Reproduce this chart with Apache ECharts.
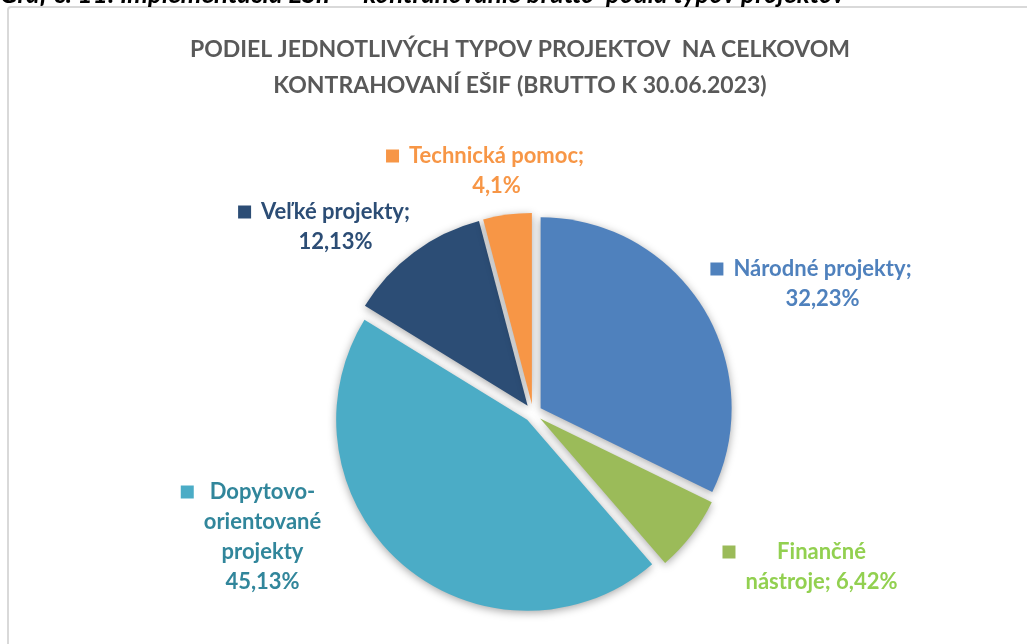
<!DOCTYPE html>
<html>
<head>
<meta charset="utf-8">
<script src="https://cdn.jsdelivr.net/npm/echarts@6/dist/echarts.min.js"></script>
<style>
html, body { margin: 0; padding: 0; background: #fff; }
#chart { width: 1027px; height: 644px; }
</style>
</head>
<body>
<div id="chart"></div>
<script>
// data
const categories = ['Národné projekty', 'Finančné nástroje', 'Dopytovo-orientované projekty', 'Veľké projekty', 'Technická pomoc'];
const shares = [32.23, 6.42, 45.13, 12.13, 4.1];
// how each label is broken into lines (%v = value)
const labelLines = [
    ['Národné projekty;', '%v'],
    ['Finančné', 'nástroje; %v'],
    ['Dopytovo-', 'orientované', 'projekty', '%v'],
    ['Veľké projekty;', '%v'],
    ['Technická pomoc;', '%v']
];
const sliceColors = ['#4F81BD', '#9BBB59', '#4BACC6', '#2C4D75', '#F79646'];
const labelColors = ['#4F81BD', '#92D050', '#31869B', '#2C4D75', '#F79646'];

// centre of each label block, as Excel placed them
const labelAnchors = [[811, 284], [810, 567], [251, 537], [324, 227], [485, 171]];

const labelFont = 'Lato, "Open Sans", sans-serif';

let chart = echarts.init(document.getElementById('chart'));

function labelText(i) {
    let v = String(shares[i]).replace('.', ',') + '%';
    return labelLines[i].map(function (ln, k) {
        return (k === 0 ? '{m|}{g|}' : '{s|}') + '{t|' + ln.replace('%v', v) + '}';
    }).join('\n');
}

// data labels (Excel style: square key + text, free placed)
let labels = categories.map(function (name, i) {
    return {
        type: 'text',
        x: labelAnchors[i][0],
        y: labelAnchors[i][1],
        silent: true,
        z: 10,
        style: {
            text: labelText(i),
            align: 'center',
            verticalAlign: 'middle',
            rich: {
                m: { width: 13, height: 13, backgroundColor: sliceColors[i], align: 'left' },
                g: { width: 10, align: 'left' },
                s: { width: 23, align: 'left' },
                t: {
                    fill: labelColors[i],
                    fontFamily: labelFont,
                    fontWeight: 'bold',
                    fontSize: 22,
                    lineHeight: 30,
                    align: 'center'
                }
            }
        }
    };
});

let pieData = categories.map(function (name, i) {
    return {
        name: name,
        value: shares[i],
        selected: true,
        itemStyle: { color: sliceColors[i] }
    };
});

let option = {
    backgroundColor: '#ffffff',
    animation: false,
    title: {
        text: 'PODIEL JEDNOTLIVÝCH TYPOV PROJEKTOV  NA CELKOVOM\nKONTRAHOVANÍ EŠIF (BRUTTO K 30.06.2023)',
        left: 520,
        top: 32,
        textAlign: 'center',
        padding: 0,
        textStyle: {
            color: '#595959',
            fontFamily: labelFont,
            fontWeight: 'bold',
            fontSize: 23,
            lineHeight: 36
        }
    },
    graphic: [
        {
            type: 'rect',
            shape: { x: 8, y: 7, width: 1100, height: 700, r: 3 },
            style: { fill: 'none', stroke: '#D9D9D9', lineWidth: 2 },
            silent: true
        },
        {
            type: 'text',
            x: 0,
            y: -5,
            style: {
                text: 'Graf č. 11: Implementácia EŠIF – kontrahovanie brutto  podľa typov projektov',
                font: 'italic bold 26px Lato, sans-serif',
                fill: '#000',
                verticalAlign: 'middle'
            },
            silent: true
        }
    ].concat(labels),
    series: [
        {
            type: 'pie',
            center: [533, 413],
            radius: 191,
            startAngle: 90,
            clockwise: true,
            selectedMode: 'multiple',
            selectedOffset: 9,
            itemStyle: {
                borderWidth: 0,
                shadowBlur: 8,
                shadowOffsetY: 2,
                shadowColor: 'rgba(0,0,0,0.35)'
            },
            select: { itemStyle: { borderWidth: 0 } },
            emphasis: { disabled: true },
            label: { show: false },
            labelLine: { show: false },
            data: pieData
        }
    ]
};

chart.setOption(option);
window.addEventListener('resize', function () {
    chart.resize();
});
</script>
</body>
</html>
